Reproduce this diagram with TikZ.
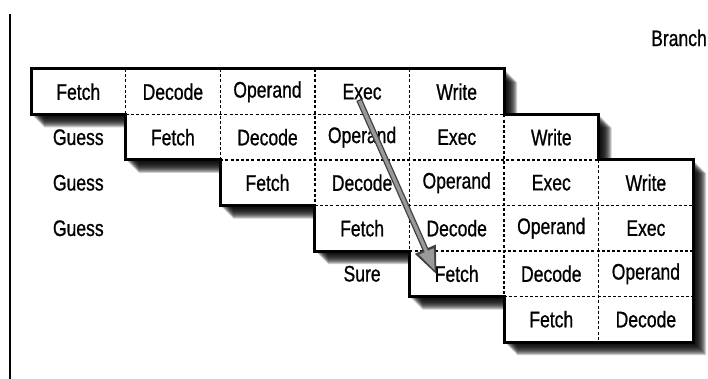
\documentclass[tikz,border=0pt]{standalone}
\usepackage{fontspec}
\setmainfont{Liberation Sans}[FakeStretch=0.78,FakeBold=0.8]
\usetikzlibrary{arrows.meta,calc}
\newcommand\stagename[1]{\ifcase#1 Fetch\or Decode\or Operand\or Exec\or Write\fi}
\newcommand\stairpath{(31,69) -- (504,69) -- (504,114.5) -- (598.6,114.5) -- (598.6,160) -- (693.2,160) -- (693.2,342) -- (504,342) -- (504,296.5) -- (409.4,296.5) -- (409.4,251) -- (314.8,251) -- (314.8,205.5) -- (220.2,205.5) -- (220.2,160) -- (125.6,160) -- (125.6,114.5) -- (31,114.5) -- cycle}
\begin{document}
\begin{tikzpicture}[x=1pt,y=-1pt,
  cell/.style={inner sep=1pt, font=\fontsize{22.5}{26}\selectfont},
  outline/.style={line width=3pt, line join=miter},
  gridline/.style={line width=1.4pt, dash pattern=on 3pt off 2.2pt},
  shadowlayer/.style={fill=black, fill opacity=0.2}]
\useasboundingbox (0,0) rectangle (708,379);
% left rule
\draw[line width=2.8pt] (10,14) -- (10,379);
% blurred drop shadow
\foreach \d in {1,...,13}
  \fill[shadowlayer, shift={(\d,\d)}] \stairpath;
\fill[white] \stairpath;
% dashed interior grid
\draw[gridline] (125.6,69) -- (125.6,114.5);
\draw[gridline] (220.2,69) -- (220.2,160);
\draw[gridline] (314.8,69) -- (314.8,205.5);
\draw[gridline] (409.4,69) -- (409.4,251);
\draw[gridline] (504,114.5) -- (504,296.5);
\draw[gridline] (598.6,160) -- (598.6,342);
\draw[gridline] (125.6,114.5) -- (504,114.5);
\draw[gridline] (220.2,160) -- (598.6,160);
\draw[gridline] (314.8,205.5) -- (693.2,205.5);
\draw[gridline] (409.4,251) -- (693.2,251);
\draw[gridline] (504,296.5) -- (693.2,296.5);
% outline
\draw[outline] \stairpath;
% cells
\foreach \r in {0,...,5}
  \foreach \c in {\r,...,6} {
    \pgfmathtruncatemacro\k{\c-\r}
    \ifnum\k<5
      \node[cell] (c\r\c) at ({31+94.6*\c+47.3},{69+45.5*\r+22.75}) {\stagename{\k}};
    \fi
  }
% side labels
\node[cell] (g1) at (78.3,137.25) {Guess};
\node[cell] (g2) at (78.3,182.75) {Guess};
\node[cell] (g3) at (78.3,228.25) {Guess};
\node[cell] (s4) at (362.1,273.75) {Sure};
\node[cell] (br) at (679,38) {Branch};
% arrow
\coordinate (a1) at ($(c03)+(-3,8)$);
\coordinate (a2) at ($(c44)+(-20,1)$);
\draw[line width=6pt, black!75, -{Triangle[length=28pt,width=21pt]}] (a1) -- (a2);
\draw[line width=3.4pt, black!40, shorten >=4.5pt, shorten <=1.3pt, -{Triangle[length=21pt,width=15pt]}] (a1) -- (a2);
\end{tikzpicture}
\end{document}
